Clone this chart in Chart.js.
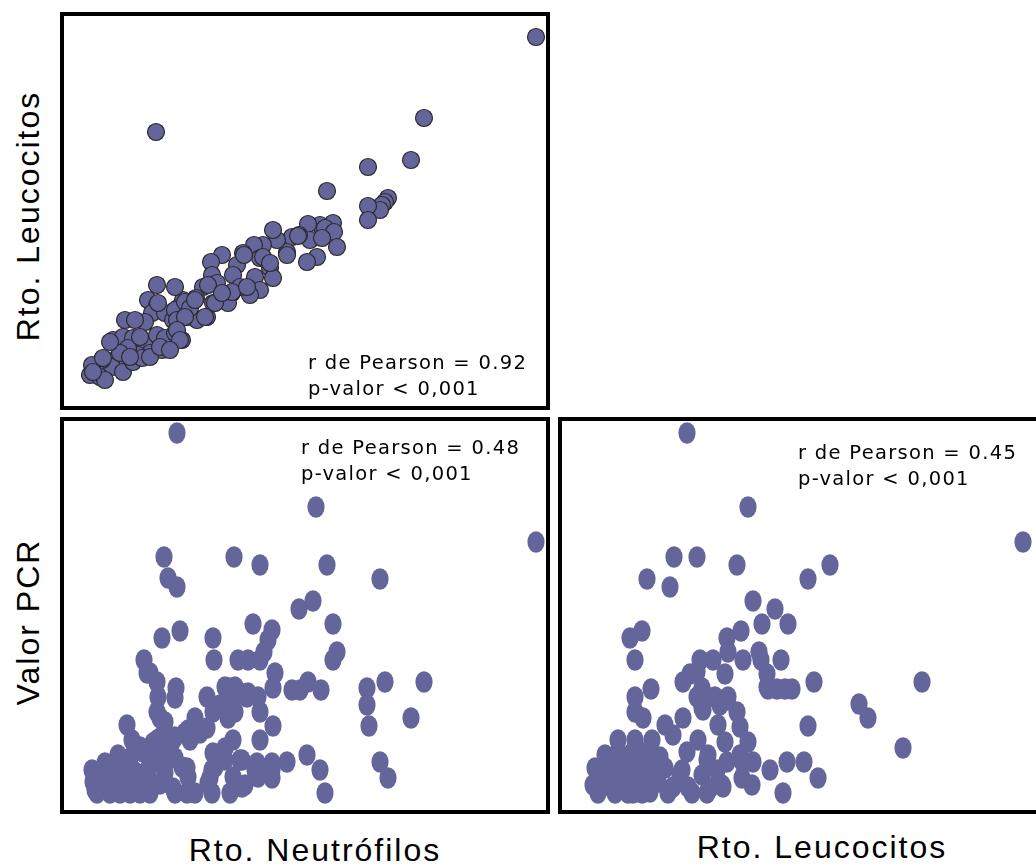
<!DOCTYPE html>
<html>
<head>
<meta charset="utf-8">
<script src="https://cdn.jsdelivr.net/npm/chart.js@4.4.0/dist/chart.umd.min.js"></script>
<style>
  html, body { margin: 0; padding: 0; background: #fff; overflow: hidden; }
  #page { position: relative; width: 1036px; height: 867px; overflow: hidden;
          font-family: "Liberation Sans", Arial, sans-serif; color: #000; }
  canvas { position: absolute; }
  .title { position: absolute; font-size: 32px; letter-spacing: 2px; line-height: 1;
           white-space: nowrap; transform: translate(-50%, -50%); }
  .title.rot { transform: translate(-50%, -50%) rotate(-90deg); }
  .stat { position: absolute; font-family: "DejaVu Sans", sans-serif; font-size: 19.5px;
          letter-spacing: 1.3px; line-height: 25.5px; white-space: nowrap; }
</style>
</head>
<body>
<div id="page">
  <canvas id="panel1" width="490" height="398" style="left:60px;top:12px"></canvas>
  <canvas id="panel2" width="490" height="397" style="left:60px;top:417px"></canvas>
  <canvas id="panel3" width="490" height="397" style="left:558px;top:417px"></canvas>

  <div class="title rot" id="yTitle1" style="left:28px;top:216px"></div>
  <div class="title rot" id="yTitle2" style="left:28px;top:622px"></div>
  <div class="title" id="xTitle1" style="left:315px;top:850px"></div>
  <div class="title" id="xTitle2" style="left:822px;top:847px"></div>

  <div class="stat" id="stat1" style="left:308px;top:350px"></div>
  <div class="stat" id="stat2" style="left:301px;top:435px"></div>
  <div class="stat" id="stat3" style="left:798px;top:440px"></div>
</div>
<script>
// axis titles
const rowTitles = ["Rto. Leucocitos", "Valor PCR"];
const colTitles = ["Rto. Neutrófilos", "Rto. Leucocitos"];

// correlation results per panel
const pearsonR = ["0.92", "0.48", "0.45"];
const pValues = ["< 0,001", "< 0,001", "< 0,001"];

// Rto. Neutrófilos (x) vs Rto. Leucocitos (y)
const neutroLeuco = [
  [47.6,37.3],[9.6,27.8],[36.4,29.2],[35.1,25.0],[30.8,24.3],[26.7,21.9],
  [32.8,21.2],[32.5,20.8],[32.2,20.5],[32.0,20.0],[30.8,20.4],[30.8,19.0],
  [27.3,18.7],[26.0,18.5],[24.8,18.6],[26.5,18.2],[27.4,17.8],[27.7,16.3],[25.7,15.3],[24.7,14.8],
  [25.0,17.0],[23.9,17.5],[23.2,17.3],[22.7,15.8],[21.7,17.0],[21.3,18.0],[20.3,16.5],[19.4,16.5],
  [18.3,15.7],[20.0,15.2],[21.0,14.2],[21.3,13.2],[19.5,13.3],[20.0,12.0],[19.0,11.5],[17.7,14.5],
  [17.3,13.5],[18.0,12.3],[17.2,11.7],[16.2,15.5],[15.1,14.8],[15.2,13.5],[15.7,12.7],[15.3,10.7],
  [16.8,10.7],[14.7,9.3],[14.3,12.3],[13.6,11.2],[12.9,10.2],[12.3,11.0],[11.5,12.3],[11.8,10.2],
  [9.7,12.5],[8.8,11.0],[9.7,10.5],[9.2,9.7],[10.5,9.7],[11.3,9.0],[12.7,9.3],[13.7,9.0],
  [8.5,8.8],[9.8,10.7],[6.5,9.0],[7.5,9.0],[11.5,10.0],[12.5,10.8],[13.0,10.2],[13.5,11.0],
  [11.7,9.0],[12.5,9.3],[14.5,9.3],[15.5,10.7],[14.8,12.5],[17.2,11.8],[16.2,11.7],
  [5.3,7.0],[6.3,7.3],[7.3,7.2],[8.5,6.5],[9.7,7.5],[10.5,7.2],[11.5,7.7],[12.2,7.0],
  [10.2,6.0],[9.0,5.7],[7.8,5.5],[6.8,6.2],[5.8,5.3],[6.2,4.7],[5.2,4.3],[4.2,5.0],
  [3.5,4.0],[3.2,4.5],[3.0,3.5],[4.0,3.3],[4.5,3.0],[6.3,3.8],[7.3,4.8],[8.2,5.2],
  [3.3,3.8],[6.0,5.7],[4.3,5.2],[5.0,6.8],[8.0,7.3],[7.0,5.3],[9.0,5.3],[10.0,6.3],
  [11.7,8.0],[12.0,7.0],[11.0,6.0],
  [18.4,15.5],[20.3,15.3],[21.0,14.7],[18.7,12.3],[23.8,17.4],[26.2,17.2],[22.7,15.5]
];

// Rto. Neutrófilos (x) vs Valor PCR (y)
const neutroPcr = [
  [11.7,381],[25.6,307],[47.6,272],[10.4,257],[17.4,257],[20.0,249],[26.7,249],[32.0,235],
  [10.8,236],[11.7,227],[25.3,213],[23.9,205],[19.3,190],[21.2,184],[27.3,190],[12.0,183],
  [10.2,176],[15.3,176],[20.8,174],[27.7,162],[27.3,154],[20.4,162],[20.0,154],[18.8,154],
  [17.8,154],[15.4,154],[8.4,154],[8.7,141],[9.7,132],[11.6,126],[11.5,116],[9.8,117],
  [9.7,102],[10.0,96],[21.5,141],[21.3,126],[23.2,124],[24.0,124],[24.8,132],[26.1,124],
  [30.7,126],[32.5,132],[36.4,132],[30.7,109],[30.9,88],[35.1,96],[16.9,126],[17.3,117],
  [14.7,117],[16.0,109],[18.7,117],[19.8,117],[20.0,102],[17.5,102],[16.8,96],[15.3,102],
  [13.5,96],[21.3,88],[20.0,74],[17.3,74],[16.5,66],[15.3,61],[14.7,86],[14.0,81],
  [12.5,81],[13.0,74],[6.7,89],[7.2,74],[8.0,67],[9.7,74],[10.7,71],[11.3,74],
  [24.7,59],[26.0,44],[32.0,52],[32.8,36],[26.5,21],[22.7,52],[21.2,51],[19.7,51],
  [21.2,36],[19.8,37],[18.2,54],[17.3,37],[18.5,29],[17.0,21],[15.2,44],[15.0,36],
  [15.2,21],[13.5,21],[12.7,46],[12.7,21],[11.5,21],[11.5,56],[10.5,62],[10.0,51],
  [9.0,21],[8.0,21],[7.0,21],[6.0,21],[5.0,21],[3.7,21],[3.3,32],[3.2,44],
  [4.5,51],[5.8,59],[6.7,52],[7.5,42],[8.5,41],[9.0,51],[6.3,36],[4.7,36],
  [8.3,62],[9.3,71],[10.5,92],[16.5,127],[17.5,127],[18.8,121],[17.2,107],[12.8,84],
  [11.5,77],[10.0,76],[16.5,54],[18.0,54],[19.5,44],[15.5,47],[9.2,64],[10.2,54],
  [12.2,47],[12.8,37],[11.3,26],[14.8,31],[18.2,27],[21.2,44],[3.5,24],[6.8,41],
  [8.8,37],[10.5,41],[9.0,141],[18.0,121],
  [4.0,38],[5.5,45],[7.0,56],[8.0,30],[10.0,30],[5.2,28]
];

// Rto. Leucocitos (x) vs Valor PCR (y)
const leucoPcr = [
  [12.9,381],[19.0,307],[46.5,272],[11.6,257],[13.9,257],[17.9,249],[27.2,249],[25.0,235],
  [8.9,235],[11.2,227],[19.5,213],[21.7,205],[20.4,190],[23.0,190],[8.4,183],[7.2,176],
  [18.3,183],[16.9,176],[7.7,154],[14.2,154],[15.5,154],[17.0,162],[18.5,154],[20.1,162],
  [20.3,154],[22.3,154],[16.7,140],[20.9,140],[13.2,140],[12.5,132],[9.3,125],[7.7,117],
  [14.4,126],[14.9,117],[13.9,117],[17.0,117],[21.0,125],[21.9,125],[22.7,125],[23.4,125],
  [25.6,132],[36.4,132],[30.1,110],[31.0,96],[25.0,88],[34.5,66],[7.7,102],[8.5,96],
  [12.5,96],[14.4,106],[16.2,109],[17.9,102],[16.0,89],[18.2,87],[10.7,89],[11.5,79],
  [14.0,74],[16.7,72],[19.0,72],[6.0,74],[7.7,74],[9.4,74],[4.7,59],[12.9,62],
  [15.0,59],[16.9,52],[18.2,59],[19.5,52],[21.2,44],[22.9,52],[24.6,52],[26.0,36],
  [22.5,21],[19.4,29],[18.4,36],[16.4,29],[14.9,21],[13.4,21],[12.4,44],[11.0,21],
  [10.0,32],[10.7,46],[8.4,21],[7.0,21],[5.7,21],[4.0,21],[3.5,29],[3.7,46],
  [5.0,46],[6.4,51],[8.0,46],[9.2,52],[7.4,34],[5.7,34],[8.9,34],[13.9,142],
  [14.5,104],[16.9,114],[6.0,62],[7.4,61],[8.9,62],[10.2,57],[14.9,54],[15.9,44],
  [18.5,51],[6.5,44],[12.2,39],[14.4,39],[4.9,29],[6.5,29],[8.4,29],[11.5,27],
  [13.0,27],[15.2,26],[16.5,27],[7.5,21],[9.2,22],[20.9,127],[15.7,117],
  [4.2,37],[5.5,55],[6.8,36],[9.7,42]
];

const pointColor = "#64659a";

function ellipseDot(){
    // the lower panels use slightly tall markers without outline
    const c = document.createElement("canvas");
    c.width = 18;
    c.height = 22;
    const g = c.getContext("2d");
    g.fillStyle = pointColor;
    g.beginPath();
    g.ellipse(9, 11, 8.6, 10.8, 0, 0, Math.PI * 2);
    g.fill();
    return c;
}

const boxPlugin = {
    id: "box",
    afterDraw(chart){
        const { ctx, width, height } = chart;
        ctx.save();
        ctx.strokeStyle = "#000";
        ctx.lineWidth = 4;
        ctx.strokeRect(2, 2, width - 4, height - 4);
        ctx.restore();
    }
};

function createPanel(id, points, xMax, yMax, pointStyle){
    return new Chart(id, {
        type: "scatter",
        data: {
            datasets: [{
                data: points.map(p => ({ x: p[0], y: p[1] })),
                clip: false,
                ...pointStyle
            }]
        },
        options: {
            responsive: false,
            animation: false,
            devicePixelRatio: 1,
            events: [],
            layout: { padding: 0, autoPadding: false },
            plugins: {
                legend: { display: false },
                tooltip: { enabled: false }
            },
            scales: {
                x: { type: "linear", display: false, min: 0, max: xMax },
                y: { type: "linear", display: false, min: 0, max: yMax }
            }
        },
        plugins: [boxPlugin]
    });
}

createPanel("panel1", neutroLeuco, 49, 39.8, {
    pointRadius: 8.5,
    pointBackgroundColor: pointColor,
    pointBorderColor: "#2b2b2b",
    pointBorderWidth: 1.2
});
const dot = ellipseDot();
createPanel("panel2", neutroPcr, 49, 397, { pointStyle: dot, pointRadius: 10 });
createPanel("panel3", leucoPcr, 49, 397, { pointStyle: dot, pointRadius: 10 });

document.getElementById("yTitle1").textContent = rowTitles[0];
document.getElementById("yTitle2").textContent = rowTitles[1];
document.getElementById("xTitle1").textContent = colTitles[0];
document.getElementById("xTitle2").textContent = colTitles[1];

pearsonR.forEach((r, i) => {
    const el = document.getElementById(`stat${i + 1}`);
    el.innerText = `r de Pearson = ${r}\np-valor ${pValues[i]}`;
});
</script>
</body>
</html>
